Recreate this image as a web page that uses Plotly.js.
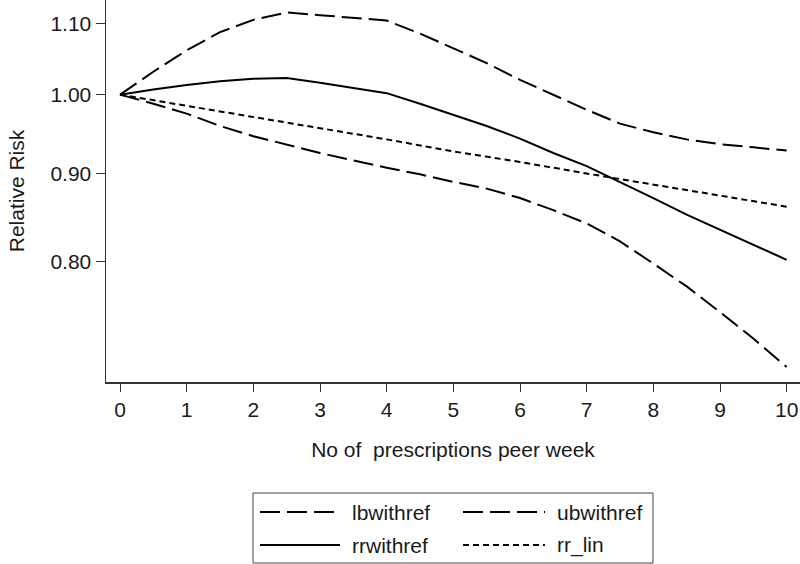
<!DOCTYPE html>
<html>
<head>
<meta charset="utf-8">
<script src="https://cdn.plot.ly/plotly-3.0.1.min.js"></script>
<style>html,body{margin:0;padding:0;background:#fff;}#chart{width:800px;height:564px;}</style>
</head>
<body>
<div id="chart"></div>
<script>
// Data
const doses = [0, 0.5, 1, 1.5, 2, 2.5, 3, 4, 4.5, 5, 5.5, 6, 6.5, 7, 7.5, 8, 8.5, 9, 9.5, 10];
const lbwithref = [1.000, 0.988, 0.975, 0.959, 0.946, 0.935, 0.925, 0.907, 0.899, 0.890, 0.882, 0.871, 0.857, 0.842, 0.822, 0.798, 0.774, 0.748, 0.722, 0.695];
const ubwithref = [1.000, 1.031, 1.061, 1.087, 1.105, 1.116, 1.112, 1.104, 1.085, 1.064, 1.043, 1.020, 1.000, 0.980, 0.962, 0.951, 0.942, 0.936, 0.932, 0.928];
const rrwithref = [1.000, 1.007, 1.013, 1.018, 1.0215, 1.0225, 1.016, 1.002, 0.988, 0.973, 0.959, 0.943, 0.925, 0.909, 0.890, 0.871, 0.852, 0.835, 0.818, 0.802];
const linDoses = [0, 1, 2, 3, 4, 5, 6, 7, 8, 9, 10];
const rr_lin = [1.000, 0.985, 0.971, 0.956, 0.942, 0.927, 0.914, 0.900, 0.887, 0.874, 0.861];
const seriesNames = ['lbwithref', 'ubwithref', 'rrwithref', 'rr_lin'];
const xTicks = [0, 1, 2, 3, 4, 5, 6, 7, 8, 9, 10];
const yTicks = [0.80, 0.90, 1.00, 1.10];
const yTickText = ['0.80', '0.90', '1.00', '1.10'];

const FONT = 'Liberation Sans, Arial, sans-serif';
const FS = 21;
const TXT = '#1a1a1a';
const longDash = '20px,7px';
const shortDash = '6px,4px';
const dashes = [longDash, longDash, 'solid', shortDash];
const LW = 2;

const traces = [
  {x: doses, y: lbwithref, name: seriesNames[0]},
  {x: doses, y: ubwithref, name: seriesNames[1]},
  {x: doses, y: rrwithref, name: seriesNames[2]},
  {x: linDoses, y: rr_lin, name: seriesNames[3]}
].map((t, i) => Object.assign(t, {
  type: 'scatter', mode: 'lines', showlegend: false,
  line: {color: '#000', width: LW, dash: dashes[i]}
}));

// plot area in pixels: left 106, right 800, top 0, bottom 382
const L = 106, R = 800, T = 0, B = 382;
const px2x = p => (p - L) / (R - L);
const py2y = p => (B - p) / (B - T);

// manual legend (Stata-like)
const shapes = [{
  type: 'rect', xref: 'paper', yref: 'paper',
  x0: px2x(253), x1: px2x(653), y0: py2y(493), y1: py2y(563),
  line: {color: '#444', width: 1}, fillcolor: 'rgba(0,0,0,0)'
}];
const annotations = [];
const legendPos = [
  {lx0: 260, lx1: 340, tx: 350, y: 512},
  {lx0: 463, lx1: 545, tx: 555, y: 512},
  {lx0: 260, lx1: 340, tx: 350, y: 545},
  {lx0: 463, lx1: 545, tx: 555, y: 545}
];
legendPos.forEach((p, i) => {
  shapes.push({type: 'line', xref: 'paper', yref: 'paper',
    x0: px2x(p.lx0), x1: px2x(p.lx1), y0: py2y(p.y), y1: py2y(p.y),
    line: {color: '#000', width: LW, dash: dashes[i]}});
  annotations.push({xref: 'paper', yref: 'paper', x: px2x(p.tx), y: py2y(p.y),
    xanchor: 'left', yanchor: 'middle', showarrow: false, text: seriesNames[i],
    font: {family: FONT, size: FS, color: TXT}});
});

const layout = {
  width: 800, height: 564,
  margin: {l: L, r: 800 - R, t: T, b: 564 - B, pad: 0},
  paper_bgcolor: '#fff', plot_bgcolor: '#fff',
  showlegend: false,
  font: {family: FONT, size: FS, color: TXT},
  xaxis: {
    range: [-0.21, 10.2], tickvals: xTicks, ticks: 'outside', ticklen: 8, tickwidth: 1, tickcolor: '#333',
    showline: true, linecolor: '#333', linewidth: 1.5, showgrid: false, zeroline: false,
    tickfont: {family: FONT, size: FS, color: TXT},
    title: {text: 'No of  prescriptions peer week', font: {family: FONT, size: FS, color: TXT}, standoff: 22}
  },
  yaxis: {
    type: 'log', range: [-0.1667, 0.0549], tickvals: yTicks, ticktext: yTickText,
    ticks: 'outside', ticklen: 9, tickwidth: 1, tickcolor: '#333',
    showline: true, linecolor: '#333', linewidth: 1.5, showgrid: false, zeroline: false,
    tickfont: {family: FONT, size: FS, color: TXT},
    title: {text: 'Relative Risk', font: {family: FONT, size: FS, color: TXT}, standoff: 20}
  },
  shapes: shapes,
  annotations: annotations
};

Plotly.newPlot('chart', traces, layout, {displayModeBar: false, staticPlot: true});
</script>
</body>
</html>
